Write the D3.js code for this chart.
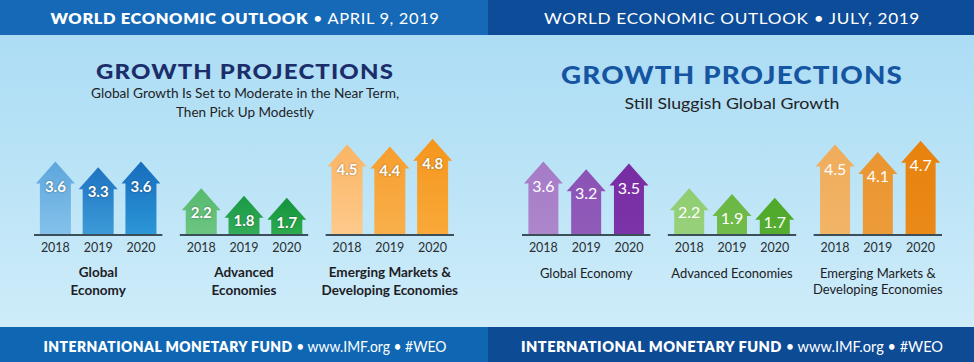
<!DOCTYPE html>
<html><head><meta charset="utf-8">
<script src="https://cdn.jsdelivr.net/npm/d3@7"></script>
<style>html,body{margin:0;padding:0;background:#fff}svg{display:block}</style>
</head><body><svg id="c" width="974" height="362"></svg>
<script>
// ---- data ----
const years = ["2018", "2019", "2020"];
const groupKeys = ["global", "advanced", "emerging"];
const aprilLabels = [["Global", "Economy"], ["Advanced", "Economies"], ["Emerging Markets &", "Developing Economies"]];
const julyLabels = [["Global Economy"], ["Advanced Economies"], ["Emerging Markets &", "Developing Economies"]];
const aprilGlobal = [3.6, 3.3, 3.6];
const aprilAdvanced = [2.2, 1.8, 1.7];
const aprilEmerging = [4.5, 4.4, 4.8];
const julyGlobal = [3.6, 3.2, 3.5];
const julyAdvanced = [2.2, 1.9, 1.7];
const julyEmerging = [4.5, 4.1, 4.7];
const aprilHeader = ["WORLD ECONOMIC OUTLOOK", " • APRIL 9, 2019"];
const julyHeader = ["WORLD ECONOMIC OUTLOOK • JULY, 2019"];
const aprilSubtitle = ["Global Growth Is Set to Moderate in the Near Term,", "Then Pick Up Modestly"];
const julySubtitle = ["Still Sluggish Global Growth"];
const footerBold = "INTERNATIONAL MONETARY FUND";
const footerRest = " • www.IMF.org • #WEO";

// colours [top, bottom]
const aprilColors = [
  [["#5da6dc", "#84c2ea"], ["#1f73c2", "#3d9bd8"], ["#176cbd", "#2c97d7"]],
  [["#57b96e", "#6cc682"], ["#1b9946", "#33ad58"], ["#14923c", "#2dab4e"]],
  [["#fbb463", "#fdca8c"], ["#f79e2e", "#f9b04b"], ["#f5961d", "#f8a939"]]
];
const julyColors = [
  [["#a57bc6", "#ad86cb"], ["#8a52b6", "#915bb9"], ["#772ca3", "#7d34a8"]],
  [["#8fcd71", "#98d17b"], ["#6ab744", "#72bc4c"], ["#4ea829", "#56ad31"]],
  [["#efac5b", "#f2b466"], ["#ea9530", "#ed9c3a"], ["#e7820e", "#ea8a18"]]
];

const svg = d3.select("#c");
const defs = svg.append("defs");

// background
const bg = defs.append("linearGradient").attr("id", "bg").attr("x1", 0).attr("x2", 0).attr("y1", 0).attr("y2", 1);
bg.append("stop").attr("offset", "0%").attr("stop-color", "#a9dbf4");
bg.append("stop").attr("offset", "45%").attr("stop-color", "#b9e3f6");
bg.append("stop").attr("offset", "100%").attr("stop-color", "#d3eefa");
svg.append("rect").attr("x", 0).attr("y", 0).attr("width", 974).attr("height", 362).attr("fill", "url(#bg)");

const baseY = 235;
const y = d3.scaleLinear().domain([0, 5]).range([230, 135]);

function panel(opt) {
  const g = svg.append("g");
  const px = opt.x0;
  // header
  g.append("rect").attr("x", px).attr("y", 0).attr("width", opt.w).attr("height", 35).attr("fill", opt.headerFill);
  g.append("rect").attr("x", px).attr("y", 327).attr("width", opt.w).attr("height", 35).attr("fill", opt.footerFill);

  const ht = g.append("text").attr("x", opt.cx).attr("y", 24).attr("text-anchor", "middle")
    .attr("fill", "#fff").attr("font-family", "Lato, 'Open Sans', sans-serif").attr("font-size", 15.5)
    .attr("letter-spacing", 0.6);
  opt.header.forEach((t, i) => ht.append("tspan").text(t)
    .attr("font-weight", opt.bold && i === 0 ? 800 : 400));
  ht.attr("textLength", opt.headerLen).attr("lengthAdjust", "spacingAndGlyphs");

  const ft = g.append("text").attr("x", opt.cx).attr("y", 352).attr("text-anchor", "middle")
    .attr("fill", "#fff").attr("font-family", "Lato, 'Open Sans', sans-serif").attr("font-size", 14.5);
  ft.append("tspan").text(footerBold).attr("font-weight", 800).attr("letter-spacing", 0.5);
  ft.append("tspan").text(footerRest).attr("font-weight", 400);
  ft.attr("textLength", opt.footerLen).attr("lengthAdjust", "spacingAndGlyphs");

  // title
  g.append("text").attr("x", opt.cx).attr("y", opt.titleY).attr("text-anchor", "middle")
    .attr("fill", opt.titleFill).attr("font-family", "Lato, 'Open Sans', sans-serif")
    .attr("font-weight", 900).attr("font-size", opt.titleSize).attr("letter-spacing", 1)
    .attr("textLength", opt.titleLen).attr("lengthAdjust", "spacingAndGlyphs")
    .text("GROWTH PROJECTIONS");
  opt.subtitle.forEach((t, i) => {
    g.append("text").attr("x", opt.cx).attr("y", opt.subY[i]).attr("text-anchor", "middle")
      .attr("fill", "#1f2326").attr("font-family", "Lato, 'Open Sans', sans-serif")
      .attr("font-size", opt.subSize).attr("textLength", opt.subLen[i]).attr("lengthAdjust", "spacingAndGlyphs")
      .text(t);
  });

  const outer = d3.scaleBand().domain(groupKeys).range([px + 34, px + 454]).paddingInner(0.12);
  const inner = d3.scalePoint().domain(years).range([0, outer.bandwidth()]).padding(0.5);

  groupKeys.forEach((k, gi) => {
    const gx = outer(k);
    const vals = opt.values[gi];
    years.forEach((yr, yi) => {
      const id = opt.id + "g" + gi + "_" + yi;
      const c = opt.colors[gi][yi];
      const lg = defs.append("linearGradient").attr("id", id).attr("x1", 0).attr("x2", 0).attr("y1", 0).attr("y2", 1);
      lg.append("stop").attr("offset", "0%").attr("stop-color", c[0]);
      lg.append("stop").attr("offset", "100%").attr("stop-color", c[1]);
      const cx = gx + inner(yr);
      const tip = y(vals[yi]);
      const sw = opt.shaftW / 2, hw = 19.5, hh = 22;
      const p = d3.path();
      p.moveTo(cx - sw, baseY); p.lineTo(cx - sw, tip + hh); p.lineTo(cx - hw, tip + hh);
      p.lineTo(cx, tip); p.lineTo(cx + hw, tip + hh); p.lineTo(cx + sw, tip + hh);
      p.lineTo(cx + sw, baseY); p.closePath();
      g.append("path").attr("d", p.toString()).attr("fill", "url(#" + id + ")");
      g.append("text").attr("x", cx).attr("y", tip + 30).attr("text-anchor", "middle")
        .attr("fill", "#fff").attr("font-family", "Lato, 'Open Sans', sans-serif")
        .attr("font-weight", opt.bold ? 700 : 400).attr("font-size", opt.bold ? 15 : 16)
        .attr("style", opt.bold ? "text-shadow:0 0 2px rgba(0,0,0,0.45)" : "")
        .text(d3.format(".1f")(vals[yi]));
      g.append("text").attr("x", cx).attr("y", 252).attr("text-anchor", "middle")
        .attr("fill", "#2a2f33").attr("font-family", "Lato, 'Open Sans', sans-serif")
        .attr("font-size", 12.5).text(yr);
    });
    g.append("line").attr("x1", gx).attr("x2", gx + outer.bandwidth()).attr("y1", baseY).attr("y2", baseY)
      .attr("stroke", "#3c4e5a").attr("stroke-width", 2);
    opt.labels[gi].forEach((t, li) => {
      g.append("text").attr("x", gx + outer.bandwidth() / 2).attr("y", opt.labY[li]).attr("text-anchor", "middle")
        .attr("fill", "#1c2024").attr("font-family", "Lato, 'Open Sans', sans-serif")
        .attr("font-weight", opt.bold ? 700 : 400).attr("font-size", opt.bold ? 13.5 : 13)
        .text(t);
    });
  });
}

panel({
  id: "a", x0: 0, w: 488, cx: 245, bold: true,
  headerFill: "#1569b7", footerFill: "#0f67b4",
  header: aprilHeader, headerLen: 389, footerLen: 403,
  titleFill: "#1b2d6b", titleY: 79, titleSize: 21, titleLen: 298,
  subtitle: aprilSubtitle, subY: [98, 117], subSize: 13.5, subLen: [308, 138],
  values: [aprilGlobal, aprilAdvanced, aprilEmerging], colors: aprilColors,
  labels: aprilLabels, labY: [277, 295], shaftW: 31
});
panel({
  id: "j", x0: 488, w: 486, cx: 732, bold: false,
  headerFill: "#0d4c98", footerFill: "#0d4b95",
  header: julyHeader, headerLen: 376, footerLen: 422,
  titleFill: "#1655a2", titleY: 84, titleSize: 24, titleLen: 342,
  subtitle: julySubtitle, subY: [109], subSize: 15, subLen: [215],
  values: [julyGlobal, julyAdvanced, julyEmerging], colors: julyColors,
  labels: julyLabels, labY: [278, 294], shaftW: 30
});
</script></body></html>
